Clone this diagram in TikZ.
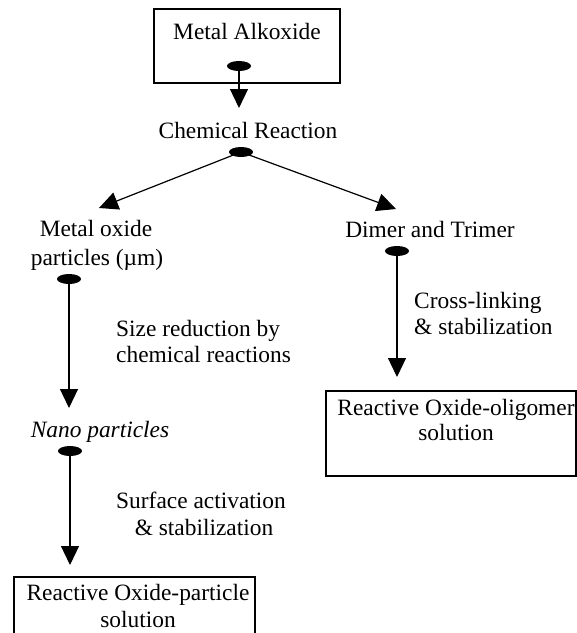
\documentclass[tikz,border=0pt]{standalone}
\usepackage{fontspec}
\setmainfont{Liberation Serif}
\usetikzlibrary{arrows.meta,shapes.geometric}
\begin{document}
\begin{tikzpicture}[x=1pt,y=-1pt,
  txt/.style={font=\fontsize{23.4}{27}\selectfont, inner sep=0pt, anchor=base},
  ltxt/.style={txt, anchor=base west},
  blob/.style={ellipse, fill=black, minimum width=24pt, minimum height=10pt, inner sep=0pt},
  frame/.style={draw, line width=1.2pt, inner sep=0pt},
  arr/.style={line width=1.2pt, -{Triangle[width=18pt,length=19pt]}}]
\useasboundingbox (0,0) rectangle (577,633);
% boxes
\node[frame, minimum width=186pt, minimum height=74pt] (b1) at (247,46) {};
\node[frame, minimum width=250pt, minimum height=85pt] (b2) at (451,433.5) {};
\node[frame, minimum width=241pt, minimum height=73pt] (b3) at (134.5,613.5) {};
% texts
\node[txt] (ma) at (247,39) {Metal Alkoxide};
\node[txt] (cr) at (248,138) {Chemical Reaction};
\node[txt] (mo1) at (96,236) {Metal oxide};
\node[txt] (mo2) at (97,265) {particles (µm)};
\node[ltxt] (sr1) at (116,336) {Size reduction by};
\node[ltxt] (sr2) at (116,362) {chemical reactions};
\node[txt] (np) at (100,437) {\itshape Nano particles};
\node[txt] (sa1) at (201,508) {Surface activation};
\node[txt] (sa2) at (204,535) {\& stabilization};
\node[txt] (rp1) at (138,600) {Reactive Oxide-particle};
\node[txt] (rp2) at (138,627.5) {solution};
\node[txt] (dt) at (430,237) {Dimer and Trimer};
\node[ltxt] (cl1) at (414,308) {Cross-linking};
\node[ltxt] (cl2) at (414,334) {\& stabilization};
\node[txt] (ro1) at (456,415) {Reactive Oxide-oligomer};
\node[txt] (ro2) at (456,440.5) {solution};
% arrow tips
\coordinate (t1) at (239,108);
\coordinate (t2) at (99,208);
\coordinate (t3) at (396,209);
\coordinate (t4) at (69,408);
\coordinate (t5) at (70,565);
\coordinate (t6) at (397,377);
% blobs
\node[blob] (e1) at (239,66) {};
\node[blob] (e2) at (241,152) {};
\node[blob] (e3) at (69,279) {};
\node[blob] (e4) at (70,451) {};
\node[blob] (e5) at (397,251) {};
% connectors
\draw[arr] (e1.center) -- (t1);
\draw[arr] (e2.center) -- (t2);
\draw[arr] (e2.center) -- (t3);
\draw[arr] (e3.center) -- (t4);
\draw[arr] (e4.center) -- (t5);
\draw[arr] (e5.center) -- (t6);
\end{tikzpicture}
\end{document}
